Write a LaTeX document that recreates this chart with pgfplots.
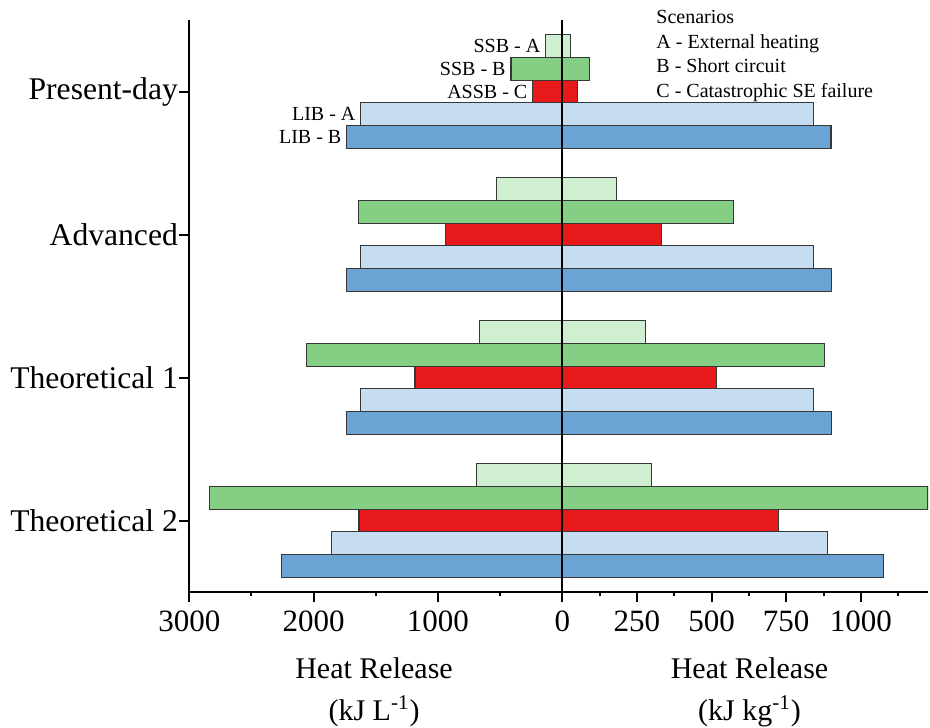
\documentclass[border=0pt]{standalone}
\usepackage{fontspec}
\setmainfont{Liberation Serif}
\usepackage{pgfplots}
\pgfplotsset{compat=1.18}
\definecolor{ssbA}{RGB}{208,238,208}
\definecolor{ssbB}{RGB}{132,207,132}
\definecolor{assbC}{RGB}{232,25,26}
\definecolor{libA}{RGB}{198,220,240}
\definecolor{libB}{RGB}{107,164,212}
\definecolor{edge}{RGB}{55,55,55}
\begin{document}
\begin{tikzpicture}[font=\fontsize{15.5}{18}\selectfont]
\useasboundingbox (0,0) rectangle (465pt,-363.5pt);
\pgfplotsset{
  hb/.style={
    scale only axis, height=286pt, ymin=-0.5, ymax=3.5,
    xbar, bar width=0.16, bar shift=0pt,
    axis on top,
    axis x line*=bottom, axis y line*=left,
    axis line style={-, black, line width=1pt},
    tick align=outside, major tick length=5pt, minor tick length=2.2pt,
    tick style={black, line width=1pt},
    /pgf/number format/assume math mode=true,
    /pgf/number format/set thousands separator={},
    ticklabel style={font=\fontsize{15.5}{18}\selectfont},
    xticklabel style={yshift=-1pt},
  },
  bb/.style={draw=edge, line width=0.55pt, fill=#1},
}
% left axis: kJ/L
\begin{axis}[hb, at={(94.65pt,-296pt)}, anchor=south west, width=186.5pt,
  xmin=-3000, xmax=0,
  xtick={-3000,-2000,-1000,0}, xticklabels={3000,2000,1000,0},
  minor xtick={-2500,-1500,-500},
  ytick={0,1,2,3}, yticklabels={Theoretical 2,Theoretical 1,Advanced,Present-day},
  yticklabel style={xshift=2.8pt, font=\fontsize{15.8}{19}\selectfont},
  clip=false]
\addplot[bb=ssbA] coordinates {(-134,3.32) (-531,2.32) (-666,1.32) (-693,0.32)};
\addplot[bb=ssbB] coordinates {(-413,3.16) (-1639,2.16) (-2059,1.16) (-2840,0.16)};
\addplot[bb=assbC] coordinates {(-238,3) (-943,2) (-1185,1) (-1635,0)};
\addplot[bb=libA] coordinates {(-1621,2.84) (-1620,1.84) (-1620,0.84) (-1855,-0.16)};
\addplot[bb=libB] coordinates {(-1734,2.68) (-1736,1.68) (-1736,0.68) (-2259,-0.32)};
\begin{scope}[every node/.style={anchor=east, inner sep=0pt, xshift=-2.5pt, font=\fontsize{10}{12}\selectfont}]
\node at (axis cs:-134,3.32) {SSB - A};
\node at (axis cs:-413,3.16) {SSB - B};
\node at (axis cs:-238,3) {ASSB - C};
\node at (axis cs:-1621,2.84) {LIB - A};
\node at (axis cs:-1734,2.68) {LIB - B};
\end{scope}
\end{axis}
% right axis: kJ/kg
\begin{axis}[hb, at={(281.15pt,-296pt)}, anchor=south west, width=182.85pt,
  xmin=0, xmax=1225,
  xtick={250,500,750,1000}, xticklabels={250,500,750,1000},
  minor xtick={125,375,625,875,1125},
  ytick=\empty]
\addplot[bb=ssbA] coordinates {(28,3.32) (183,2.32) (280,1.32) (298,0.32)};
\addplot[bb=ssbB] coordinates {(90,3.16) (574,2.16) (877,1.16) (1225,0.16)};
\addplot[bb=assbC] coordinates {(50,3) (333,2) (516,1) (723,0)};
\addplot[bb=libA] coordinates {(841,2.84) (842,1.84) (842,0.84) (887,-0.16)};
\addplot[bb=libB] coordinates {(900,2.68) (901,1.68) (901,0.68) (1077,-0.32)};
\end{axis}
% scenarios note
\begin{scope}[every node/.style={anchor=base west, inner sep=0pt, font=\fontsize{10}{12}\selectfont}]
\node at (328pt,-12pt) {Scenarios};
\node at (328pt,-24.25pt) {A - External heating};
\node at (328pt,-36.5pt) {B - Short circuit};
\node at (328pt,-48.75pt) {C - Catastrophic SE failure};
\end{scope}
% axis titles
\begin{scope}[every node/.style={anchor=base, inner sep=0pt, font=\fontsize{15}{18}\selectfont}]
\node at (187pt,-339pt) {Heat Release};
\node at (187pt,-360pt) {(kJ L\textsuperscript{-1})};
\node at (374.75pt,-339pt) {Heat Release};
\node at (374.75pt,-360pt) {(kJ kg\textsuperscript{-1})};
\end{scope}
\end{tikzpicture}
\end{document}
